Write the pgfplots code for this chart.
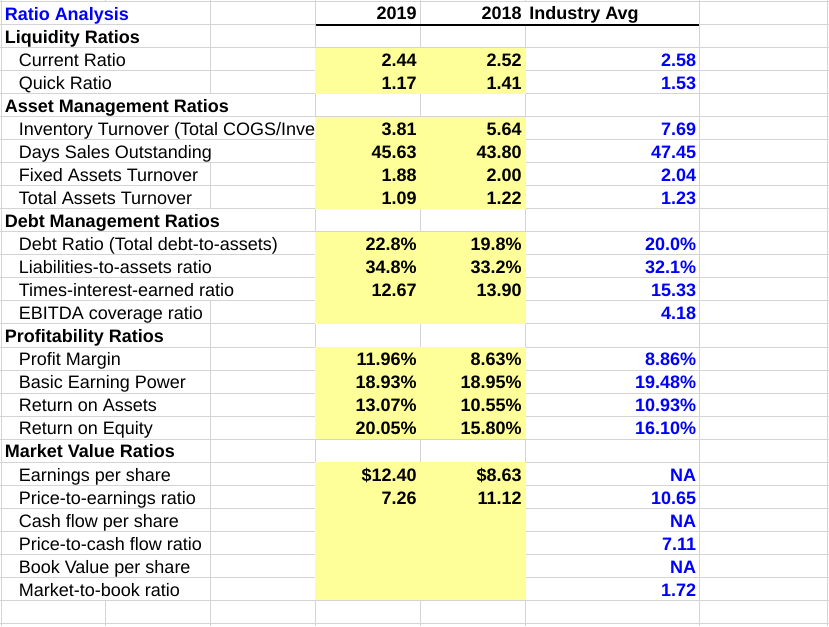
\documentclass[border=0pt]{standalone}
\usepackage{fontspec}
\setmainfont{Liberation Sans}
\usepackage{pgfplots}
\usepackage{pgfplotstable}
\pgfplotsset{compat=1.18}
\definecolor{cellyellow}{HTML}{FFFF99}
\definecolor{gridgray}{HTML}{D4D4D4}
\definecolor{valblue}{HTML}{0000FF}
\newcommand{\cellfont}{\fontsize{13.5pt}{15pt}\selectfont}

% values with two decimals: row, 2019, 2018, industry
\pgfplotstableread{
row a b c
3 2.44 2.52 2.58
4 1.17 1.41 1.53
6 3.81 5.64 7.69
7 45.63 43.80 47.45
8 1.88 2.00 2.04
9 1.09 1.22 1.23
13 12.67 13.90 15.33
22 7.26 11.12 10.65
}\twodec
% industry-only values with two decimals
\pgfplotstableread{
row c
14 4.18
24 7.11
26 1.72
}\indonly
% percentages with one decimal
\pgfplotstableread{
row a b c
11 22.8 19.8 20.0
12 34.8 33.2 32.1
}\pctone
% percentages with two decimals
\pgfplotstableread{
row a b c
16 11.96 8.63 8.86
17 18.93 18.95 19.48
18 13.07 10.55 10.93
19 20.05 15.80 16.10
}\pcttwo
% dollar values (2019, 2018)
\pgfplotstableread{
row a b
21 12.40 8.63
}\dollar
% not available
\pgfplotstableread{
row label
21 NA
23 NA
25 NA
}\natab
% row labels
\pgfplotstableread[col sep=comma]{
row,label
3,Current Ratio
4,Quick Ratio
6,Inventory Turnover (Total COGS/Inve
7,Days Sales Outstanding
8,Fixed Assets Turnover
9,Total Assets Turnover
11,Debt Ratio (Total debt-to-assets)
12,Liabilities-to-assets ratio
13,Times-interest-earned ratio
14,EBITDA coverage ratio
16,Profit Margin
17,Basic Earning Power
18,Return on Assets
19,Return on Equity
21,Earnings per share
22,Price-to-earnings ratio
23,Cash flow per share
24,Price-to-cash flow ratio
25,Book Value per share
26,Market-to-book ratio
}\labtab
\pgfplotstableread[col sep=comma]{
row,label
2,Liquidity Ratios
5,Asset Management Ratios
10,Debt Management Ratios
15,Profitability Ratios
20,Market Value Ratios
}\headtab

\pgfplotsset{
  txt/.style={draw=none, mark=none, nodes near coords,
    every node near coord/.append style={inner sep=0pt, font=\cellfont}},
  /pgf/number format/assume math mode=true,
  valA/.style={txt, point meta=explicit, nodes near coords={#1},
    every node near coord/.append style={anchor=base east, font=\cellfont\bfseries, text=black}},
  valC/.style={txt, point meta=explicit, nodes near coords={#1},
    every node near coord/.append style={anchor=base east, font=\cellfont\bfseries, text=valblue}},
}
\newcommand{\rowy}{1.7+18.9+23.02*(\thisrow{row}-1)}
\newcommand{\colA}{417}
\newcommand{\colB}{522}
\newcommand{\colC}{696.5}
\newcommand{\fmtTwo}{\pgfmathprintnumber[fixed, fixed zerofill, precision=2]{\pgfplotspointmeta}}
\newcommand{\fmtOne}{\pgfmathprintnumber[fixed, fixed zerofill, precision=1]{\pgfplotspointmeta}}

\begin{document}
\begin{tikzpicture}
\begin{axis}[name=ax,
  width=621.75pt, height=469.5pt, scale only axis,
  xmin=0, xmax=829, ymin=0, ymax=626, y dir=reverse,
  hide axis, clip=true]

% horizontal gridlines
\pgfplotsinvokeforeach{0,...,27}{
  \draw[gridgray, line width=0.75pt] (0,{1.7+23.02*#1}) -- (829,{1.7+23.02*#1});
}
% vertical gridlines
\draw[gridgray, line width=0.75pt] (1,0) -- (1,626);
\draw[gridgray, line width=0.75pt] (105.7,0) -- (105.7,1.7);
\draw[gridgray, line width=0.75pt] (105.7,600.2) -- (105.7,626);
\draw[gridgray, line width=0.75pt] (210.7,0) -- (210.7,93.8);
\draw[gridgray, line width=0.75pt] (210.7,162.8) -- (210.7,208.9);
\draw[gridgray, line width=0.75pt] (210.7,301.0) -- (210.7,626);
\draw[gridgray, line width=0.75pt] (315.7,0) -- (315.7,626);
\draw[gridgray, line width=0.75pt] (420.7,0) -- (420.7,626);
\draw[gridgray, line width=0.75pt] (525.7,0) -- (525.7,1.7);
\draw[gridgray, line width=0.75pt] (525.7,24.7) -- (525.7,626);
\draw[gridgray, line width=0.75pt] (699.3,0) -- (699.3,626);
\draw[gridgray, line width=0.75pt] (827.7,0) -- (827.7,626);

% yellow input cells
\fill[cellyellow] (315.3,47.7) rectangle (525.5,93.8);
\fill[cellyellow] (315.3,116.8) rectangle (525.5,208.9);
\fill[cellyellow] (315.3,231.9) rectangle (525.5,324.0);
\fill[cellyellow] (315.3,347.0) rectangle (525.5,439.1);
\fill[cellyellow] (315.3,462.1) rectangle (525.5,600.2);

% header underline
\draw[black, line width=1.5pt] (315.5,24.9) -- (699.3,24.9);

% header row
\addplot[txt, point meta=explicit symbolic,
  every node near coord/.append style={anchor=base west, font=\cellfont\bfseries, text=valblue}]
  table[x expr=4.5, y expr=\rowy, meta=label, col sep=comma] {
row,label
1,Ratio Analysis
};
\addplot[txt, point meta=explicit symbolic,
  every node near coord/.append style={anchor=base east, font=\cellfont\bfseries, text=black}]
  table[x=x, y expr=\rowy-1.5, meta=label, col sep=comma] {
row,x,label
1,417,2019
1,522,2018
};
\addplot[txt, point meta=explicit symbolic,
  every node near coord/.append style={anchor=base west, font=\cellfont\bfseries, text=black}]
  table[x expr=529, y expr=\rowy-1.5, meta=label, col sep=comma] {
row,label
1,Industry Avg
};

% section headers and row labels
\addplot[txt, point meta=explicit symbolic,
  every node near coord/.append style={anchor=base west, font=\cellfont\bfseries, text=black}]
  table[x expr=4.5, y expr=\rowy, meta=label] {\headtab};
\addplot[txt, point meta=explicit symbolic,
  every node near coord/.append style={anchor=base west, font=\cellfont, text=black}]
  table[x expr=18.5, y expr=\rowy, meta=label] {\labtab};

% values: two decimals
\addplot[valA=\fmtTwo] table[x expr=\colA, y expr=\rowy, meta=a] {\twodec};
\addplot[valA=\fmtTwo] table[x expr=\colB, y expr=\rowy, meta=b] {\twodec};
\addplot[valC=\fmtTwo] table[x expr=\colC, y expr=\rowy, meta=c] {\twodec};
\addplot[valC=\fmtTwo] table[x expr=\colC, y expr=\rowy, meta=c] {\indonly};
% percentages, one decimal
\addplot[valA=\fmtOne\%] table[x expr=\colA, y expr=\rowy, meta=a] {\pctone};
\addplot[valA=\fmtOne\%] table[x expr=\colB, y expr=\rowy, meta=b] {\pctone};
\addplot[valC=\fmtOne\%] table[x expr=\colC, y expr=\rowy, meta=c] {\pctone};
% percentages, two decimals
\addplot[valA=\fmtTwo\%] table[x expr=\colA, y expr=\rowy, meta=a] {\pcttwo};
\addplot[valA=\fmtTwo\%] table[x expr=\colB, y expr=\rowy, meta=b] {\pcttwo};
\addplot[valC=\fmtTwo\%] table[x expr=\colC, y expr=\rowy, meta=c] {\pcttwo};
% dollars
\addplot[valA=\$\fmtTwo] table[x expr=\colA, y expr=\rowy, meta=a] {\dollar};
\addplot[valA=\$\fmtTwo] table[x expr=\colB, y expr=\rowy, meta=b] {\dollar};
% NA
\addplot[txt, point meta=explicit symbolic,
  every node near coord/.append style={anchor=base east, font=\cellfont\bfseries, text=valblue}]
  table[x expr=\colC, y expr=\rowy, meta=label] {\natab};
\end{axis}
\pgfresetboundingbox
\path[use as bounding box] (ax.south west) rectangle (ax.north east);
\end{tikzpicture}
\end{document}
